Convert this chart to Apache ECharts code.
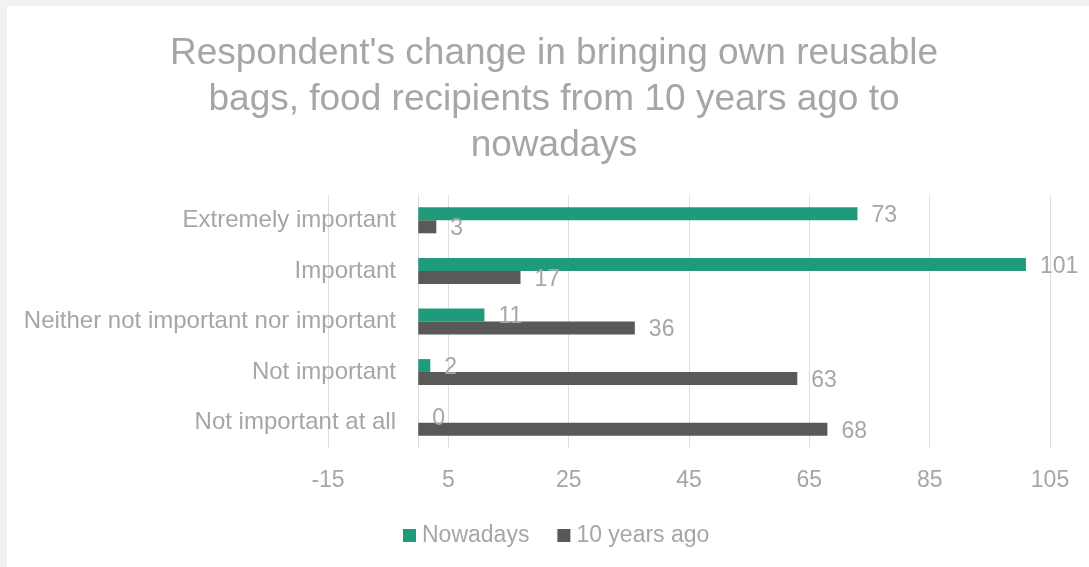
<!DOCTYPE html>
<html>
<head>
<meta charset="utf-8">
<script src="https://cdn.jsdelivr.net/npm/echarts@6/dist/echarts.min.js"></script>
<style>
html, body { margin: 0; padding: 0; background: #f2f2f2; }
#frame { position: absolute; left: 7px; top: 6px; width: 1082px; height: 561px; background: #ffffff; }
#chart { position: absolute; left: 0; top: 0; width: 1089px; height: 567px; }
</style>
</head>
<body>
<div id="frame"></div>
<div id="chart"></div>
<script>
const titleText = "Respondent's change in bringing own reusable\nbags, food recipients from 10 years ago to\nnowadays";
const categories = ["Extremely important", "Important", "Neither not important nor important", "Not important", "Not important at all"];
const seriesNames = ["Nowadays", "10 years ago"];
const nowadays = [73, 101, 11, 2, 0];
const tenYearsAgo = [3, 17, 36, 63, 68];
const xMin = -15, xMax = 105, xStep = 20;

const FONT = "'Liberation Sans', Arial, sans-serif";
const TXT = '#a6a6a6';

const chart = echarts.init(document.getElementById('chart'), null, { renderer: 'canvas' });
const labelCfg = {
  show: true, position: 'right', distance: 14, color: TXT,
  fontFamily: FONT, fontSize: 23, offset: [0, 2]
};
chart.setOption({
  backgroundColor: 'transparent',
  animation: false,
  title: {
    text: titleText,
    left: 549, top: 26, textAlign: 'center',
    textStyle: { color: TXT, fontFamily: FONT, fontSize: 37, fontWeight: 'normal', lineHeight: 46 }
  },
  legend: {
    data: seriesNames,
    left: 403, top: 524, padding: 0,
    itemWidth: 13, itemHeight: 13, itemGap: 28,
    icon: 'rect',
    textStyle: { color: TXT, fontFamily: FONT, fontSize: 23, padding: [0, 0, 0, 1] }
  },
  grid: { left: 328, right: 39, top: 195, bottom: 119, containLabel: false, outerBoundsMode: 'none' },
  xAxis: {
    type: 'value', min: xMin, max: xMax, interval: xStep,
    axisLine: { show: false }, axisTick: { show: false },
    splitLine: { show: true, lineStyle: { color: '#dedede', width: 1 } },
    axisLabel: { color: TXT, fontFamily: FONT, fontSize: 23, margin: 21 }
  },
  yAxis: {
    type: 'category', data: categories, inverse: true,
    axisLine: { show: true, onZero: true, lineStyle: { color: '#dedede', width: 1 } },
    axisTick: { show: false },
    axisLabel: { color: TXT, fontFamily: FONT, fontSize: 24, margin: -68, padding: [3, 0, 0, 0] }
  },
  series: [
    { name: seriesNames[0], type: 'bar', data: nowadays, barWidth: 13, barGap: '0%',
      itemStyle: { color: '#1f9a7a' }, label: labelCfg },
    { name: seriesNames[1], type: 'bar', data: tenYearsAgo, barWidth: 13, barGap: '0%',
      itemStyle: { color: '#595959' }, label: labelCfg }
  ]
});
</script>
</body>
</html>
